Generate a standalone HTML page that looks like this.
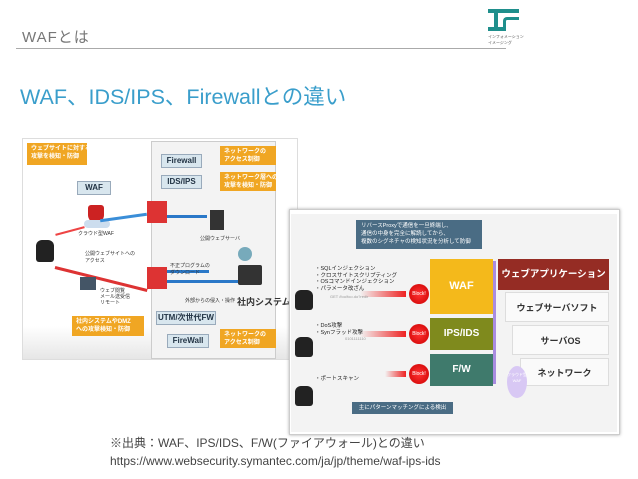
<!DOCTYPE html>
<html><head><meta charset="utf-8"><style>
*{margin:0;padding:0;box-sizing:border-box}
body{width:638px;height:479px;background:#fff;position:relative;overflow:hidden;font-family:"Liberation Sans","Noto Sans CJK JP",sans-serif}
.a{position:absolute;white-space:nowrap}
.ob{background:#f0a623;color:#fff;font-size:6px;line-height:8px;padding:2px 4px;font-weight:bold;overflow:hidden}
.lb{background:#d8e6ee;border:1px solid #9ab;color:#234;font-size:8px;font-weight:bold;text-align:center;line-height:12px}
.blk{background:radial-gradient(circle,#f33,#c00);border-radius:50%;color:#fff;font-size:5px;text-align:center;line-height:20px;width:20px;height:20px}
.pc{background:#222;border-radius:6px 6px 3px 3px}
.ra{background:linear-gradient(90deg,#fff0,#e22);height:6px}
</style></head><body>
<div class="a" style="left:22px;top:26px;font-size:15px;color:#777;letter-spacing:1px">WAFとは</div>
<div class="a" style="left:16px;top:48px;width:490px;height:1px;background:#aaa"></div>
<div class="a" style="left:488px;top:9px;width:31px;height:4px;background:#1f8f8c"></div>
<div class="a" style="left:494px;top:12px;width:4px;height:16px;background:#1f8f8c"></div>
<div class="a" style="left:488px;top:27px;width:16px;height:4px;background:#1f8f8c"></div>
<div class="a" style="left:503px;top:17px;width:16px;height:14px;border:3px solid #1f8f8c;border-radius:4px 0 0 0;border-right:none;border-bottom:none"></div>
<div class="a" style="left:488px;top:34px;font-size:4px;color:#555">インフォメーション<br>イメージング</div>
<div class="a" style="left:20px;top:80px;font-size:21.5px;color:#3a9ecb">WAF、IDS/IPS、Firewallとの違い</div>

<!-- left image -->
<div class="a" style="left:22px;top:138px;width:276px;height:222px;background:linear-gradient(#fff,#fff 85%,#e6e6e6);border:1px solid #ddd"></div>
<div class="a" style="left:151px;top:141px;width:125px;height:218px;background:#f3f3f3;border:1px solid #ccc"></div>
<div class="a ob" style="left:27px;top:143px;width:60px;height:22px">ウェブサイトに対する<br>攻撃を検知・防御</div>
<div class="a lb" style="left:77px;top:181px;width:34px">WAF</div>
<div class="a lb" style="left:161px;top:154px;width:41px">Firewall</div>
<div class="a lb" style="left:161px;top:175px;width:41px">IDS/IPS</div>
<div class="a ob" style="left:220px;top:146px;width:56px;height:19px">ネットワークの<br>アクセス制御</div>
<div class="a ob" style="left:220px;top:172px;width:56px;height:19px">ネットワーク層への<br>攻撃を検知・防御</div>
<div class="a" style="left:88px;top:205px;width:16px;height:18px;background:#c22;border-radius:3px 3px 8px 8px"></div>
<div class="a" style="left:84px;top:220px;width:26px;height:8px;background:#cde;border-radius:5px"></div>
<div class="a" style="left:78px;top:230px;font-size:5px;color:#333">クラウド型WAF</div>
<div class="a" style="left:147px;top:201px;width:20px;height:22px;background:#d33"></div>
<div class="a" style="left:147px;top:267px;width:20px;height:22px;background:#d33"></div>
<div class="a" style="left:210px;top:210px;width:14px;height:20px;background:#333"></div>
<div class="a" style="left:200px;top:235px;font-size:5px;color:#333">公開ウェブサーバ</div>
<div class="a" style="left:100px;top:216px;width:47px;height:3px;background:#3a8ed8;transform:rotate(-8deg)"></div>
<div class="a" style="left:167px;top:215px;width:40px;height:3px;background:#2a78c8"></div>
<div class="a" style="left:55px;top:230px;width:30px;height:2px;background:#e44;transform:rotate(-15deg)"></div>
<div class="a" style="left:55px;top:266px;width:95px;height:3px;background:#d33;transform:rotate(14deg);transform-origin:left"></div>
<div class="a" style="left:167px;top:280px;width:85px;height:3px;background:#2a78c8"></div>
<div class="a" style="left:167px;top:270px;width:42px;height:3px;background:#2a78c8"></div>
<div class="a pc" style="left:36px;top:240px;width:18px;height:22px"></div>
<div class="a" style="left:80px;top:277px;width:16px;height:13px;background:#456"></div>
<div class="a" style="left:100px;top:288px;font-size:5px;line-height:6px;color:#333">ウェブ閲覧<br>メール送受信<br>リモート</div>
<div class="a" style="left:85px;top:250px;font-size:5px;color:#333">公開ウェブサイトへの<br>アクセス</div>
<div class="a" style="left:170px;top:262px;font-size:5px;color:#333">不正プログラムの<br>ダウンロード</div>
<div class="a" style="left:185px;top:297px;font-size:5px;color:#333">外部からの侵入・操作</div>
<div class="a" style="left:238px;top:265px;width:24px;height:20px;background:#333;border-radius:2px"></div>
<div class="a" style="left:238px;top:247px;width:14px;height:14px;background:#7ab;border-radius:50%"></div>
<div class="a" style="left:237px;top:295px;font-size:9px;font-weight:bold;color:#333">社内システム</div>
<div class="a lb" style="left:156px;top:311px;width:60px;font-size:8px">UTM/次世代FW</div>
<div class="a lb" style="left:167px;top:334px;width:42px">FireWall</div>
<div class="a ob" style="left:72px;top:316px;width:72px;height:20px">社内システムやDMZ<br>への攻撃検知・防御</div>
<div class="a ob" style="left:220px;top:329px;width:56px;height:19px">ネットワークの<br>アクセス制御</div>

<!-- right image -->
<div class="a" style="left:289px;top:209px;width:331px;height:226px;background:#fff;border:1px solid #ccc;box-shadow:0 0 3px #aaa"></div>
<div class="a" style="left:291px;top:214px;width:326px;height:218px;background:#f3f3f3"></div>
<div class="a" style="left:356px;top:220px;width:126px;height:29px;background:#4a6c84;color:#fff;font-size:5.5px;line-height:8px;padding:2px 5px">リバースProxyで通信を一旦終端し、<br>通信の中身を完全に解読してから、<br>複数のシグネチャの検知状況を分析して防御</div>
<div class="a" style="left:430px;top:259px;width:63px;height:55px;background:#f4b91b;color:#fff;font-size:11px;font-weight:bold;text-align:center;line-height:55px">WAF</div>
<div class="a" style="left:430px;top:318px;width:63px;height:32px;background:#7f8a1d;color:#fff;font-size:10px;font-weight:bold;text-align:center;line-height:32px">IPS/IDS</div>
<div class="a" style="left:430px;top:354px;width:63px;height:32px;background:#3f7a6c;color:#fff;font-size:10px;font-weight:bold;text-align:center;line-height:32px">F/W</div>
<div class="a" style="left:493px;top:261px;width:3px;height:123px;background:#a98ce0"></div>
<div class="a" style="left:498px;top:259px;width:111px;height:31px;background:#952c24;color:#fff;font-size:9.5px;font-weight:bold;text-align:center;line-height:31px">ウェブアプリケーション</div>
<div class="a" style="left:505px;top:292px;width:104px;height:30px;background:#fafafa;border:1px solid #ddd;font-size:9px;font-weight:bold;text-align:center;line-height:30px;color:#333">ウェブサーバソフト</div>
<div class="a" style="left:512px;top:325px;width:97px;height:30px;background:#fafafa;border:1px solid #ddd;font-size:9px;font-weight:bold;text-align:center;line-height:30px;color:#333">サーバOS</div>
<div class="a" style="left:520px;top:358px;width:89px;height:28px;background:#fafafa;border:1px solid #ddd;font-size:9px;font-weight:bold;text-align:center;line-height:28px;color:#333">ネットワーク</div>
<div class="a" style="left:507px;top:366px;width:20px;height:32px;background:#d8c8f4;border-radius:50%;font-size:4px;color:#fff;text-align:center;padding-top:6px">クラウド型<br>WAF</div>
<div class="a blk" style="left:409px;top:284px">Block!</div>
<div class="a blk" style="left:409px;top:324px">Block!</div>
<div class="a blk" style="left:409px;top:364px">Block!</div>
<div class="a ra" style="left:360px;top:291px;width:46px"></div>
<div class="a ra" style="left:360px;top:331px;width:46px"></div>
<div class="a ra" style="left:385px;top:371px;width:21px"></div>
<div class="a" style="left:315px;top:266px;font-size:5.5px;line-height:6.5px;color:#222">・SQLインジェクション<br>・クロスサイトスクリプティング<br>・OSコマンドインジェクション<br>・パラメータ改ざん</div>
<div class="a" style="left:330px;top:294px;font-size:4px;color:#999">GET /foo/foo.do?redir</div>
<div class="a" style="left:315px;top:323px;font-size:5.5px;line-height:6.5px;color:#222">・DoS攻撃<br>・Synフラッド攻撃</div>
<div class="a" style="left:345px;top:336px;font-size:4px;color:#999">0101111110</div>
<div class="a" style="left:315px;top:374px;font-size:5.5px;color:#222">・ポートスキャン</div>
<div class="a pc" style="left:295px;top:290px;width:18px;height:20px"></div>
<div class="a pc" style="left:295px;top:337px;width:18px;height:20px"></div>
<div class="a pc" style="left:295px;top:386px;width:18px;height:20px"></div>
<div class="a" style="left:352px;top:402px;width:101px;height:12px;background:#4a6c84;color:#fff;font-size:5.5px;line-height:12px;text-align:center">主にパターンマッチングによる検出</div>

<div class="a" style="left:110px;top:434px;font-size:12px;color:#444;line-height:18px">※出典：WAF、IPS/IDS、F/W(ファイアウォール)との違い<br>https://www.websecurity.symantec.com/ja/jp/theme/waf-ips-ids</div>
</body></html>
